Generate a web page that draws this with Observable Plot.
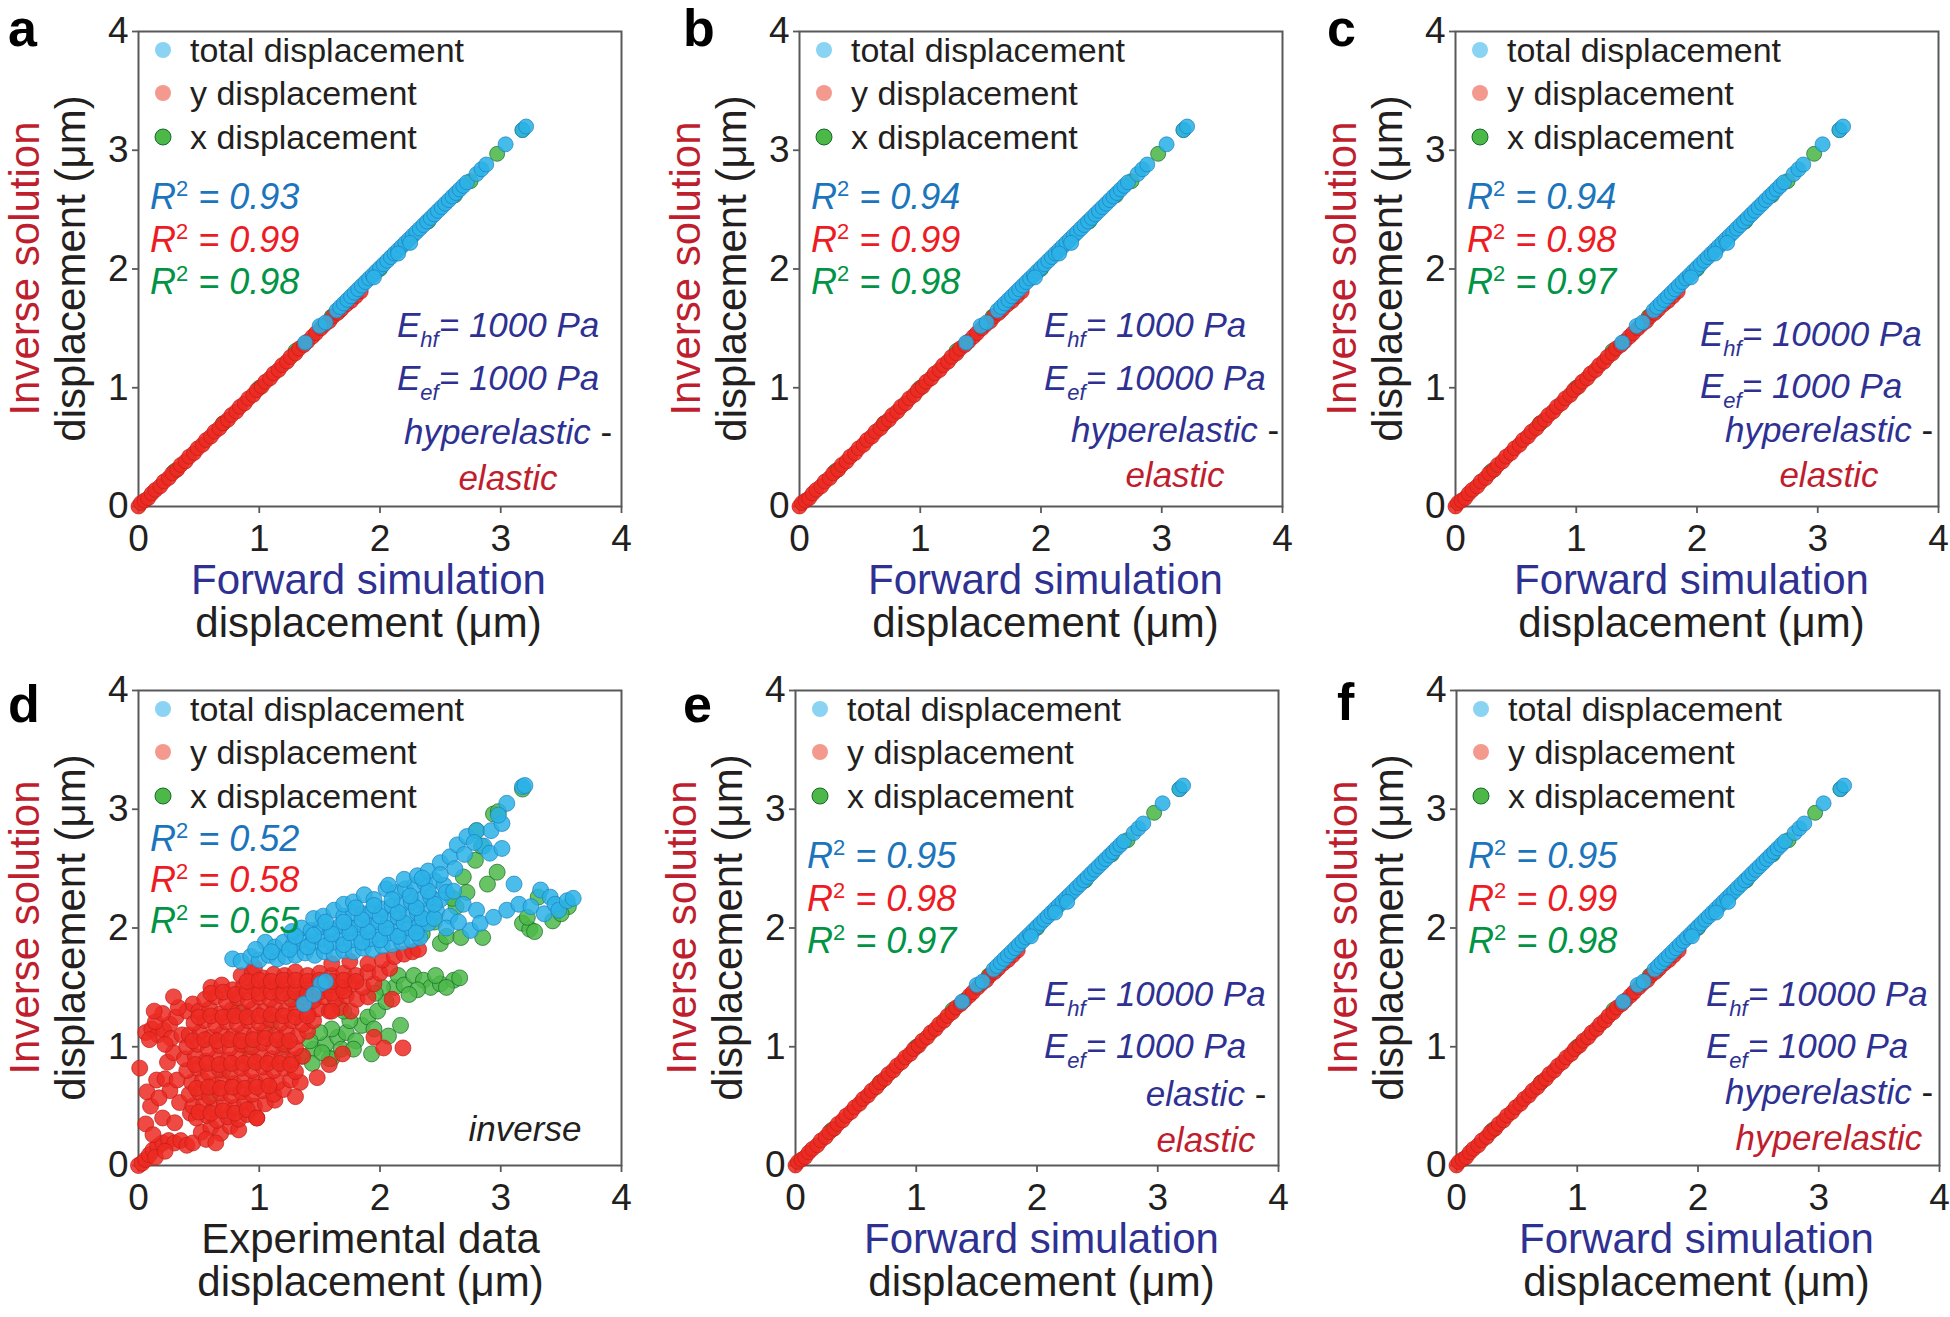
<!DOCTYPE html>
<html><head><meta charset="utf-8">
<script src="https://cdn.jsdelivr.net/npm/d3@7"></script>
<script src="https://cdn.jsdelivr.net/npm/@observablehq/plot@0.6"></script>
<style>
body{margin:0;background:#fff;}
#root{position:relative;width:1950px;height:1317px;overflow:hidden;font-family:"Liberation Sans",Arial,sans-serif;background:#fff;}
.panel{position:absolute;}
.panel svg{max-width:none !important;}
#overlay{position:absolute;left:0;top:0;pointer-events:none;}
</style></head><body><div id="root"></div>
<script>
// ---------- data ----------
const tickValues = [0, 1, 2, 3, 4];
const panelLetters = ["a", "b", "c", "d", "e", "f"];
const xLabelTop = ["Forward simulation", "Forward simulation", "Forward simulation", "Experimental data", "Forward simulation", "Forward simulation"];
const r2Total = [0.93, 0.94, 0.94, 0.52, 0.95, 0.95];
const r2Y = [0.99, 0.99, 0.98, 0.58, 0.98, 0.99];
const r2X = [0.98, 0.98, 0.97, 0.65, 0.97, 0.98];
const eHf = ["1000", "1000", "10000", null, "10000", "10000"];
const eEf = ["1000", "10000", "1000", null, "1000", "1000"];
const modelA = ["hyperelastic", "hyperelastic", "hyperelastic", null, "elastic", "hyperelastic"];
const modelB = ["elastic", "elastic", "elastic", null, "elastic", "hyperelastic"];
const legendLabels = ["total displacement", "y displacement", "x displacement"];

// forward-simulation panels (a, b, c, e, f): [forward, inverse]
const fwdY = [[0.00,0.00],[0.02,0.03],[0.05,0.05],[0.08,0.07],[0.11,0.11],[0.14,0.14],[0.18,0.17],[0.21,0.21],[0.25,0.24],[0.28,0.28],[0.32,0.31],[0.35,0.35],[0.39,0.38],[0.42,0.42],[0.46,0.45],[0.49,0.49],[0.53,0.52],[0.56,0.56],[0.6,0.59],[0.63,0.63],[0.67,0.66],[0.7,0.7],[0.74,0.73],[0.77,0.77],[0.81,0.8],[0.84,0.84],[0.88,0.87],[0.91,0.91],[0.95,0.94],[0.98,0.98],[1.02,1.01],[1.05,1.05],[1.09,1.08],[1.12,1.12],[1.16,1.15],[1.19,1.19],[1.23,1.22],[1.26,1.26],[1.3,1.29],[1.33,1.33],[1.37,1.36],[1.4,1.39],[1.44,1.43],[1.47,1.46],[1.51,1.5],[1.54,1.53],[1.58,1.56],[1.61,1.6],[1.65,1.63],[1.68,1.66],[1.72,1.7],[1.76,1.73],[1.8,1.77],[1.84,1.81]];
const fwdTotal = [[1.38,1.38],[1.5,1.52],[1.55,1.55],[1.64,1.65],[1.67,1.68],[1.7,1.71],[1.73,1.74],[1.76,1.77],[1.79,1.8],[1.82,1.83],[1.85,1.86],[1.88,1.89],[1.91,1.92],[1.94,1.95],[1.97,1.98],[2.0,2.01],[2.03,2.04],[2.06,2.07],[2.09,2.1],[2.12,2.13],[2.15,2.16],[2.18,2.19],[2.21,2.22],[2.24,2.25],[2.27,2.28],[2.3,2.31],[2.33,2.34],[2.36,2.37],[2.39,2.4],[2.42,2.43],[2.45,2.46],[2.48,2.49],[2.51,2.52],[2.54,2.55],[2.57,2.58],[2.6,2.61],[2.63,2.64],[2.66,2.67],[2.69,2.7],[2.72,2.73],[2.8,2.8],[2.84,2.84],[2.88,2.88],[3.04,3.05],[3.18,3.17],[3.21,3.2],[1.95,1.93],[2.15,2.13],[2.25,2.22]];
const fwdX = [[0.3,0.3],[0.7,0.7],[1.0,1.0],[1.3,1.31],[1.6,1.6],[2.0,2.0],[2.4,2.4],[2.62,2.62],[2.75,2.74],[2.97,2.97],[3.18,3.17]];

// experimental panel (d): [experimental, inverse]
const expY = [
[0.00,0.00],[0.03,0.02],[0.06,0.05],[0.09,0.09],[0.12,0.13],[0.16,0.16],[0.2,0.19],[0.25,0.21],[0.3,0.19],[0.35,0.21],[0.4,0.17],[0.45,0.19],[0.14,0.07],[0.22,0.12],
[0.01,0.82],[0.06,0.35],[0.1,0.5],[0.07,0.62],[0.15,0.72],[0.22,0.73],[0.24,0.87],[0.26,0.63],[0.34,0.53],[0.2,0.4],[0.12,0.26],[0.3,0.36],[0.43,0.44],[0.17,0.57],[0.32,0.72],[0.29,0.95],
[0.06,1.12],[0.11,1.15],[0.16,1.1],[0.21,1.14],[0.14,1.21],[0.09,1.06],[0.26,1.19],[0.31,1.25],[0.2,1.28],[0.27,1.07],[0.36,1.1],[0.4,1.3],[0.45,1.36],[0.33,1.33],[0.13,1.3],[0.29,1.42],[0.22,1.02],
[0.52,0.28],[0.6,0.32],[0.68,0.27],[0.76,0.33],[0.83,0.3],[0.56,0.22],[0.64,0.19],
[0.48,0.4],[0.57,0.42],[0.65,0.38],[0.74,0.41],[0.83,0.39],[0.9,0.43],[0.98,0.4],
[0.45,0.5],[0.54,0.52],[0.62,0.48],[0.71,0.51],[0.8,0.49],[0.88,0.53],[0.96,0.5],[1.05,0.52],[1.13,0.55],
[0.42,0.6],[0.5,0.62],[0.59,0.58],[0.68,0.61],[0.77,0.59],[0.85,0.62],[0.94,0.6],[1.03,0.63],[1.12,0.6],[1.2,0.64],
[0.44,0.7],[0.53,0.72],[0.62,0.68],[0.7,0.71],[0.79,0.69],[0.88,0.72],[0.97,0.7],[1.06,0.73],[1.15,0.7],[1.26,0.72],[1.34,0.7],
[0.4,0.8],[0.49,0.82],[0.58,0.78],[0.67,0.81],[0.76,0.79],[0.85,0.82],[0.94,0.8],[1.03,0.83],[1.12,0.8],[1.21,0.82],[1.3,0.79],
[0.38,0.9],[0.47,0.92],[0.56,0.88],[0.65,0.91],[0.74,0.89],[0.83,0.92],[0.92,0.9],[1.01,0.93],[1.1,0.9],[1.19,0.92],[1.28,0.89],[1.36,0.92],
[0.4,1.0],[0.49,1.02],[0.58,0.98],[0.67,1.01],[0.76,0.99],[0.85,1.02],[0.94,1.0],[1.03,1.03],[1.12,1.0],[1.21,1.02],[1.3,0.99],
[0.42,1.1],[0.51,1.12],[0.6,1.08],[0.69,1.11],[0.78,1.09],[0.87,1.12],[0.96,1.1],[1.05,1.13],[1.14,1.1],[1.23,1.12],[1.32,1.09],[1.4,1.13],
[0.46,1.2],[0.55,1.22],[0.64,1.18],[0.73,1.21],[0.82,1.19],[0.91,1.22],[1.0,1.2],[1.09,1.23],[1.18,1.2],[1.27,1.22],[1.36,1.19],[1.45,1.22],
[0.5,1.3],[0.59,1.32],[0.68,1.28],[0.77,1.31],[0.86,1.29],[0.95,1.32],[1.04,1.3],[1.13,1.33],[1.22,1.3],[1.31,1.32],[1.4,1.29],[1.49,1.32],[1.58,1.3],[1.67,1.33],[1.76,1.3],
[0.55,1.4],[0.64,1.42],[0.73,1.38],[0.82,1.41],[0.91,1.39],[1.0,1.42],[1.09,1.4],[1.18,1.43],[1.27,1.4],[1.36,1.42],[1.45,1.39],[1.54,1.42],[1.63,1.4],[1.72,1.43],[1.81,1.4],[1.9,1.42],
[0.6,1.5],[0.69,1.52],[0.78,1.48],[0.87,1.51],[0.96,1.49],[1.05,1.52],[1.14,1.5],[1.23,1.53],[1.32,1.5],[1.41,1.52],[1.5,1.49],[1.59,1.52],[1.68,1.5],[1.77,1.53],[1.86,1.5],[1.95,1.53],
[0.85,1.6],[0.94,1.62],[1.03,1.58],[1.12,1.61],[1.21,1.6],[1.3,1.63],[1.4,1.6],[1.5,1.62],[1.6,1.6],[1.7,1.62],[1.8,1.6],[1.9,1.63],[2.0,1.62],[2.08,1.66],
[0.96,1.67],[1.6,1.7],[1.75,1.72],[1.9,1.7],[2.02,1.73],[2.12,1.76],[2.2,1.78],[2.27,1.8],[2.32,1.82],
[0.5,0.45],[0.6,0.44],[0.7,0.46],[0.8,0.44],[0.9,0.47],
[0.48,0.65],[0.58,0.66],[0.68,0.65],[0.78,0.66],[0.88,0.65],[0.98,0.66],[1.08,0.67],
[0.47,0.85],[0.57,0.86],[0.67,0.85],[0.77,0.86],[0.87,0.86],[0.97,0.87],[1.07,0.86],[1.17,0.86],[1.26,0.85],
[0.45,1.05],[0.55,1.06],[0.65,1.05],[0.75,1.06],[0.85,1.05],[0.95,1.06],[1.05,1.07],[1.15,1.06],[1.25,1.05],
[0.5,1.25],[0.6,1.26],[0.7,1.25],[0.8,1.26],[0.9,1.25],[1.0,1.26],[1.1,1.27],[1.2,1.26],[1.3,1.25],[1.4,1.26],
[0.6,1.45],[0.7,1.46],[0.8,1.44],[0.9,1.46],[1.0,1.45],[1.1,1.46],[1.2,1.45],[1.3,1.46],[1.4,1.45],[1.5,1.46],[1.6,1.45],[1.7,1.47],
[0.9,1.55],[1.0,1.56],[1.1,1.55],[1.2,1.56],[1.3,1.56],[1.4,1.55],[1.5,1.56],[1.6,1.55],[1.7,1.56],[1.8,1.55],
[1.48,0.74],[1.69,0.94],[2.03,0.99],[2.19,0.99],[0.98,0.4],[1.95,1.08],[1.58,0.85],[1.3,0.58],[1.6,1.3],[2.1,1.4]
];
const expTotal = [
[0.78,1.74],[0.85,1.72],[0.93,1.76],[1.0,1.73],[1.08,1.77],[1.15,1.74],[1.05,1.88],[1.13,1.84],[0.97,1.82],[1.22,1.76],
[1.3,1.77],[1.38,1.79],[1.46,1.77],[1.54,1.8],[1.62,1.78],[1.7,1.81],[1.78,1.8],[1.86,1.83],[1.94,1.82],[2.02,1.85],[2.1,1.86],[2.18,1.88],[2.26,1.9],[2.33,1.92],
[1.2,1.88],[1.28,1.86],[1.36,1.9],[1.44,1.88],[1.52,1.91],[1.6,1.88],[1.68,1.92],[1.76,1.9],[1.84,1.93],[1.92,1.91],[2.0,1.95],[2.08,1.96],[2.16,1.98],[2.24,2.0],[2.32,2.02],[2.4,2.04],
[1.27,1.97],[1.35,2.0],[1.43,1.98],[1.51,2.01],[1.59,1.99],[1.67,2.02],[1.75,2.0],[1.83,2.03],[1.91,2.02],[1.99,2.05],[2.07,2.07],[2.15,2.09],[2.23,2.11],[2.31,2.13],[2.39,2.15],[2.47,2.14],
[1.45,2.08],[1.53,2.1],[1.62,2.15],[1.7,2.1],[1.78,2.13],[1.86,2.12],[1.94,2.15],[2.02,2.16],[2.1,2.19],[2.18,2.2],[2.26,2.22],[2.34,2.24],[2.42,2.26],[2.5,2.24],
[1.7,2.2],[1.78,2.22],[1.87,2.28],[1.95,2.24],[2.05,2.33],[2.13,2.3],[2.21,2.33],[2.29,2.36],[2.37,2.38],[2.45,2.4],[2.53,2.36],
[2.07,2.36],[2.2,2.41],[2.31,2.44],[2.4,2.48],[2.5,2.55],[2.58,2.6],[2.64,2.7],[2.72,2.77],
[1.1,1.8],[1.25,1.82],[1.4,1.84],[1.55,1.85],[1.7,1.86],[1.85,1.88],[2.0,1.9],[2.15,1.93],[2.3,1.96],
[1.3,1.93],[1.45,1.94],[1.6,1.95],[1.75,1.96],[1.9,1.97],[2.05,2.0],[2.2,2.04],[2.35,2.08],[2.45,2.08],
[1.55,2.05],[1.7,2.05],[1.85,2.07],[2.0,2.1],[2.15,2.13],[2.3,2.17],[2.45,2.2],
[1.8,2.17],[1.95,2.19],[2.1,2.24],[2.25,2.27],[2.4,2.31],[2.55,2.3],[2.5,2.45],[2.35,2.42],
[2.8,2.82],[2.86,2.69],[2.91,2.63],[2.92,2.82],[3.01,2.88],[3.01,2.67],[3.05,3.05],[3.18,3.19],[3.2,3.2],[2.98,2.95],[2.78,2.72],[2.7,2.62],[2.62,2.5],[3.11,2.37],
[2.69,2.2],[2.8,2.15],[2.61,2.31],[2.75,1.98],[2.83,2.04],[2.94,2.09],[3.05,2.15],[3.15,2.2],[3.25,2.18],[3.33,2.32],[3.36,2.12],[3.41,2.26],[3.45,2.2],[3.48,2.15],[3.55,2.23],[3.6,2.25],[2.58,2.1],[2.55,2.0],[2.65,2.05],
[1.37,1.36],[1.51,1.53],[1.55,1.55],[1.45,1.44]
];
const expX = [
[1.35,0.92],[1.45,0.98],[1.55,1.02],[1.6,0.9],[1.65,1.08],[1.72,1.12],[1.8,1.05],[1.85,1.18],[1.93,0.94],[1.9,1.25],[1.98,1.3],[2.07,1.09],[2.17,1.18],[2.05,1.38],[1.75,1.22],[1.6,1.15],[1.5,1.12],[1.42,1.05],[1.68,0.98],[1.58,0.9],[1.44,0.86],[1.52,0.95],[1.78,0.98],[1.95,1.15],[1.7,1.3],
[2.12,1.5],[2.15,1.6],[2.2,1.52],[2.28,1.6],[2.36,1.56],[2.42,1.5],[2.5,1.53],[2.61,1.56],[2.66,1.58],[2.46,1.6],[2.31,1.48],[2.02,1.5],[1.96,1.45],[2.24,1.44],[2.55,1.5],
[2.5,1.87],[2.55,1.93],[2.67,1.92],[2.85,1.92],[2.63,2.18],[2.69,2.43],[2.79,2.57],[2.84,2.69],[2.8,2.82],[2.94,2.96],[2.89,2.37],[2.97,2.47],[3.18,2.04],[3.24,1.99],[3.31,2.26],[3.43,2.06],[3.56,2.18],[3.22,2.09],[3.28,1.97],[3.5,2.12],[3.18,3.17],[2.98,2.98],[2.72,2.3],[2.6,2.25],[2.45,2.05],[2.35,1.95],
[0.7,0.8],[0.9,1.0],[1.1,1.2],[1.2,1.0],[0.82,1.3],[1.3,1.4],[1.15,1.5],[0.6,0.6]
];

// ---------- layout ----------
const PW = 483, PH = 475;
const M = {l: 60, t: 25, r: 30, b: 60};
const layout = [
  {left: 138, top: 31, letter: [8, 46], xlOff: -11, eX: 259, eY: [306, 359], cX: 370, cY: [413, 459], r2Y: [178, 221, 263]},
  {left: 799, top: 31, letter: [683, 46], xlOff: 5, eX: 245, eY: [306, 359], cX: 376, cY: [411, 456], r2Y: [178, 221, 263]},
  {left: 1455, top: 31, letter: [1327, 46], xlOff: -5, eX: 245, eY: [315, 367], cX: 374, cY: [411, 456], r2Y: [178, 221, 263]},
  {left: 138, top: 690, letter: [8, 722], xlOff: -9, cX: 387, cY: [451], r2Y: [161, 202, 243]},
  {left: 795, top: 690, letter: [683, 722], xlOff: 5, eX: 249, eY: [316, 368], cX: 411, cY: [416, 462], r2Y: [178, 221, 263]},
  {left: 1456, top: 690, letter: [1337, 720], xlOff: -1, eX: 250, eY: [316, 368], cX: 373, cY: [414, 460], r2Y: [178, 221, 263]}
];
const panelData = [
  {t: fwdTotal, y: fwdY, x: fwdX}, {t: fwdTotal, y: fwdY, x: fwdX}, {t: fwdTotal, y: fwdY, x: fwdX},
  {t: expTotal, y: expY, x: expX},
  {t: fwdTotal, y: fwdY, x: fwdX}, {t: fwdTotal, y: fwdY, x: fwdX}
];

const FONT = '"Liberation Sans", Arial, sans-serif';
const C = {
  blueFill: "#2cb2e6", blueStroke: "#1b7fc0",
  redFill: "#ec2a22", redStroke: "#c11d17",
  greenFill: "#4cb848", greenStroke: "#16692b",
  legBlue: "#8ad3f2", legRed: "#f4998d", legGreen: "#4cb848",
  r2Blue: "#1c75bc", r2Red: "#ed1c24", r2Green: "#009444",
  navy: "#2e3192", darkRed: "#be1e2d", ink: "#231f20", axis: "#58595b"
};

const root = document.getElementById("root");

layout.forEach((L, i) => {
  const D = panelData[i];
  const exp = i === 3;
  const dotOpts = (fill, stroke) => ({
    x: d => d[0], y: d => d[1], r: exp ? 8 : 7.5, fill, stroke, strokeWidth: 1,
    fillOpacity: exp ? 0.85 : 0.88, strokeOpacity: 0.7
  });
  const W = M.l + PW + M.r, H = M.t + PH + M.b;
  const chart = Plot.plot({
    width: W, height: H,
    marginLeft: M.l, marginTop: M.t, marginRight: M.r, marginBottom: M.b,
    x: {domain: [0, 4]}, y: {domain: [0, 4]},
    style: {fontFamily: FONT, fontSize: "37px", color: C.ink, background: "transparent", overflow: "visible", maxWidth: "none"},
    marks: [
      Plot.frame({stroke: C.axis, strokeWidth: 2}),
      Plot.axisX(tickValues, {tickSize: 7, tickPadding: 11, stroke: C.axis, strokeWidth: 1.8, label: null, fill: C.ink, fontSize: 37, tickFormat: d => String(d)}),
      Plot.axisY(tickValues, {tickSize: 6, tickPadding: 4, stroke: C.axis, strokeWidth: 1.8, label: null, fill: C.ink, fontSize: 37, tickFormat: d => String(d)}),
      Plot.dot(D.x, dotOpts(C.greenFill, C.greenStroke)),
      Plot.dot(D.y, dotOpts(C.redFill, C.redStroke)),
      Plot.dot(D.t, dotOpts(C.blueFill, C.blueStroke))
    ]
  });
  const div = document.createElement("div");
  div.className = "panel";
  div.style.left = (L.left - M.l) + "px";
  div.style.top = (L.top - M.t) + "px";
  div.style.width = W + "px";
  div.style.height = H + "px";
  div.appendChild(chart);
  root.appendChild(div);
});

// ---------- text overlay ----------
const svg = d3.select(root).append("svg").attr("id", "overlay")
  .attr("width", 1950).attr("height", 1317)
  .style("font-family", FONT);

layout.forEach((L, i) => {
  const g = svg.append("g");
  const bottom = L.top + PH;
  g.append("text").attr("x", L.letter[0]).attr("y", L.letter[1])
    .attr("font-size", 52).attr("font-weight", "bold").attr("fill", "#000").text(panelLetters[i]);
  const cy = L.top + PH / 2;
  g.append("text").attr("transform", `translate(${L.left - 99},${cy}) rotate(-90)`)
    .attr("text-anchor", "middle").attr("font-size", 42).attr("fill", C.darkRed).text("Inverse solution");
  g.append("text").attr("transform", `translate(${L.left - 53},${cy}) rotate(-90)`)
    .attr("text-anchor", "middle").attr("font-size", 42).attr("fill", C.ink).text("displacement (μm)");
  const cx = L.left + PW / 2 + L.xlOff;
  g.append("text").attr("x", cx).attr("y", bottom + 88).attr("text-anchor", "middle")
    .attr("font-size", 42).attr("fill", i === 3 ? C.ink : C.navy).text(xLabelTop[i]);
  g.append("text").attr("x", cx).attr("y", bottom + 131).attr("text-anchor", "middle")
    .attr("font-size", 42).attr("fill", C.ink).text("displacement (μm)");
  const legCols = [[C.legBlue, "none"], [C.legRed, "none"], [C.legGreen, C.greenStroke]];
  [19, 62, 106].forEach((dy, k) => {
    g.append("circle").attr("cx", L.left + 25).attr("cy", L.top + dy).attr("r", 8)
      .attr("fill", legCols[k][0]).attr("stroke", legCols[k][1]).attr("stroke-width", 1);
    g.append("text").attr("x", L.left + 52).attr("y", L.top + dy + 12)
      .attr("font-size", 34).attr("fill", C.ink).text(legendLabels[k]);
  });
  const r2vals = [r2Total[i], r2Y[i], r2X[i]];
  const r2cols = [C.r2Blue, C.r2Red, C.r2Green];
  r2vals.forEach((v, k) => {
    const t = g.append("text").attr("x", L.left + 12).attr("y", L.top + L.r2Y[k])
      .attr("font-size", 36).attr("font-style", "italic").attr("fill", r2cols[k]);
    t.append("tspan").text("R");
    t.append("tspan").attr("dy", -13).attr("font-size", 22).attr("font-style", "normal").text("2");
    t.append("tspan").attr("dy", 13).text(" = " + v.toFixed(2));
  });
  if (i === 3) {
    g.append("text").attr("x", L.left + L.cX).attr("y", L.top + L.cY[0]).attr("text-anchor", "middle")
      .attr("font-size", 35).attr("font-style", "italic").attr("fill", C.ink).text("inverse");
    return;
  }
  [["hf", eHf[i]], ["ef", eEf[i]]].forEach(([sub, val], k) => {
    const t = g.append("text").attr("x", L.left + L.eX).attr("y", L.top + L.eY[k])
      .attr("font-size", 35).attr("font-style", "italic").attr("fill", C.navy);
    t.append("tspan").text("E");
    t.append("tspan").attr("dy", 10).attr("font-size", 22).text(sub);
    t.append("tspan").attr("dy", -10).text("= " + val + " Pa");
  });
  const m1 = g.append("text").attr("x", L.left + L.cX).attr("y", L.top + L.cY[0]).attr("text-anchor", "middle")
    .attr("font-size", 35).attr("font-style", "italic");
  m1.append("tspan").attr("fill", C.navy).text(modelA[i]);
  m1.append("tspan").attr("fill", C.ink).attr("font-style", "normal").text(" -");
  g.append("text").attr("x", L.left + L.cX).attr("y", L.top + L.cY[1]).attr("text-anchor", "middle")
    .attr("font-size", 35).attr("font-style", "italic").attr("fill", C.darkRed).text(modelB[i]);
});
</script></body></html>
